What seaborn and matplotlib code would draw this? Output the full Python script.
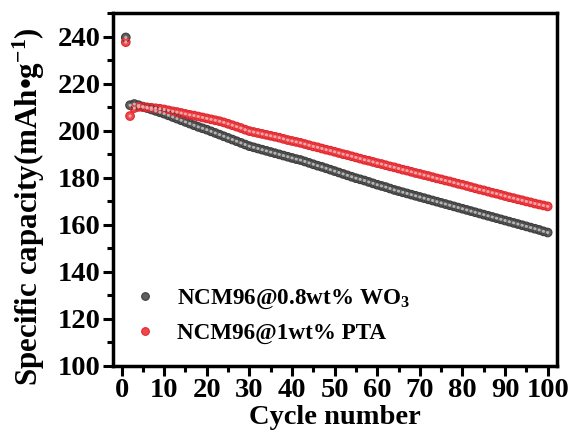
import numpy as np
import pandas as pd
import matplotlib
matplotlib.use("Agg")
import matplotlib.pyplot as plt
import seaborn as sns
from matplotlib.ticker import MultipleLocator
from matplotlib.lines import Line2D

cycles = list(range(1, 101))

wo3_capacity = [
    239.6, 210.8, 211.3, 210.8, 210.2, 209.6, 209.0, 208.4, 207.8, 207.2,
    206.5, 205.8, 205.1, 204.4, 203.7, 203.0, 202.3, 201.6, 201.0, 200.4,
    199.7, 199.0, 198.3, 197.6, 196.9, 196.2, 195.5, 194.8, 194.1, 193.4,
    192.9, 192.4, 191.9, 191.4, 190.9, 190.4, 189.9, 189.4, 188.9, 188.4,
    187.9, 187.5, 186.9, 186.3, 185.7, 185.1, 184.6, 184.0, 183.4, 182.8,
    182.2, 181.6, 181.0, 180.4, 179.8, 179.3, 178.8, 178.2, 177.6, 177.0,
    176.5, 176.0, 175.4, 174.8, 174.3, 173.8, 173.3, 172.8, 172.3, 171.8,
    171.3, 170.8, 170.3, 169.8, 169.3, 168.8, 168.3, 167.8, 167.3, 166.8,
    166.3, 165.8, 165.3, 164.8, 164.3, 163.8, 163.3, 162.8, 162.3, 161.8,
    161.3, 160.8, 160.3, 159.8, 159.3, 158.8, 158.3, 157.8, 157.2, 156.7,
]

pta_capacity = [
    237.6, 206.2, 209.6, 210.1, 210.0, 209.9, 209.7, 209.5, 209.3, 209.0,
    208.6, 208.2, 207.9, 207.5, 207.1, 206.7, 206.4, 206.0, 205.6, 205.2,
    204.8, 204.4, 204.0, 203.5, 202.9, 202.3, 201.7, 201.1, 200.4, 199.8,
    199.4, 199.0, 198.6, 198.2, 197.8, 197.4, 197.0, 196.5, 196.0, 195.6,
    195.2, 194.8, 194.3, 193.8, 193.3, 192.9, 192.4, 191.9, 191.5, 191.0,
    190.5, 190.0, 189.6, 189.1, 188.6, 188.1, 187.6, 187.2, 186.7, 186.2,
    185.8, 185.3, 184.8, 184.4, 183.9, 183.4, 183.0, 182.5, 182.0, 181.6,
    181.1, 180.7, 180.2, 179.7, 179.3, 178.8, 178.4, 177.9, 177.4, 177.0,
    176.5, 176.0, 175.5, 175.0, 174.6, 174.1, 173.6, 173.2, 172.7, 172.2,
    171.7, 171.3, 170.8, 170.4, 169.9, 169.5, 169.0, 168.6, 168.2, 167.8,
]

series_labels = ["NCM96@0.8wt% WO$_3$", "NCM96@1wt% PTA"]
x_ticks = [0, 10, 20, 30, 40, 50, 60, 70, 80, 90, 100]
y_ticks = [100, 120, 140, 160, 180, 200, 220, 240]

sns.set_style("ticks", {"axes.edgecolor": "black", "xtick.color": "black",
                        "ytick.color": "black", "text.color": "black",
                        "axes.labelcolor": "black"})
plt.rcParams["font.family"] = ["Liberation Serif", "DejaVu Serif"]
plt.rcParams["font.weight"] = "bold"
plt.rcParams["mathtext.fontset"] = "custom"
plt.rcParams["mathtext.rm"] = "Liberation Serif:bold"
plt.rcParams["mathtext.it"] = "Liberation Serif:bold"
plt.rcParams["mathtext.bf"] = "Liberation Serif:bold"
plt.rcParams["mathtext.default"] = "rm"

df = pd.DataFrame({
    "Cycle": cycles * 2,
    "Capacity": wo3_capacity + pta_capacity,
    "Sample": [series_labels[0]] * len(cycles) + [series_labels[1]] * len(cycles),
})

edge_cols = {series_labels[0]: "#3d3d3d", series_labels[1]: "#e3262e"}
face_cols = {series_labels[0]: "#5e5e5e", series_labels[1]: "#ec4a4f"}
hi_cols = {series_labels[0]: "#b5b5b5", series_labels[1]: "#f7a5a5"}

fig = plt.figure(figsize=(5.69, 4.43), dpi=100)
ax = fig.add_axes([0.1986, 0.174, 0.7804, 0.7967])

sns.scatterplot(data=df, x="Cycle", y="Capacity", hue="Sample", palette=face_cols,
                s=38, edgecolor=None, linewidth=0, ax=ax, legend=False, zorder=3)
for lab in series_labels:
    sub = df[df["Sample"] == lab]
    ax.scatter(sub["Cycle"], sub["Capacity"], s=38, facecolors="none",
               edgecolors=edge_cols[lab], linewidths=0.8, zorder=4)
sns.scatterplot(data=df, x="Cycle", y="Capacity", hue="Sample", palette=hi_cols,
                s=5, edgecolor=None, linewidth=0, ax=ax, legend=False, zorder=5)

ax.set_xlim(-2, 102.2)
ax.set_ylim(100, 250)
ax.set_xticks(x_ticks)
ax.set_yticks(y_ticks)
ax.xaxis.set_minor_locator(MultipleLocator(5))
ax.yaxis.set_minor_locator(MultipleLocator(10))
ax.tick_params(which="major", direction="out", length=7, width=2.2, labelsize=20.5, pad=2,
               colors="black")
ax.tick_params(which="minor", direction="out", length=4, width=2.2, colors="black")
for lbl in ax.get_xticklabels() + ax.get_yticklabels():
    lbl.set_fontweight("bold")
for sp in ax.spines.values():
    sp.set_linewidth(2.5)
    sp.set_color("black")
    sp.set_visible(True)

ax.set_xlabel("Cycle number", fontsize=20.5, fontweight="bold", labelpad=1, color="black")
ax.set_ylabel("Specific capacity(mAh\u2022g$^{-1}$)", fontsize=22.3, fontweight="bold",
              color="black")
ax.yaxis.set_label_coords(-0.148, 0.452)

handles = [
    Line2D([], [], marker="o", linestyle="none", markersize=5.5,
           markerfacecolor=face_cols[l], markeredgecolor=edge_cols[l], markeredgewidth=0.8)
    for l in series_labels
]
leg = ax.legend(handles, series_labels, loc="lower left", bbox_to_anchor=(0.032, 0.062),
                frameon=False, prop={"family": "Liberation Serif", "weight": "bold", "size": 16.7},
                handletextpad=0.6, labelspacing=0.5, borderaxespad=0.0, handlelength=1.55,
                borderpad=0.0)

fig.savefig("out.png", dpi=100)
